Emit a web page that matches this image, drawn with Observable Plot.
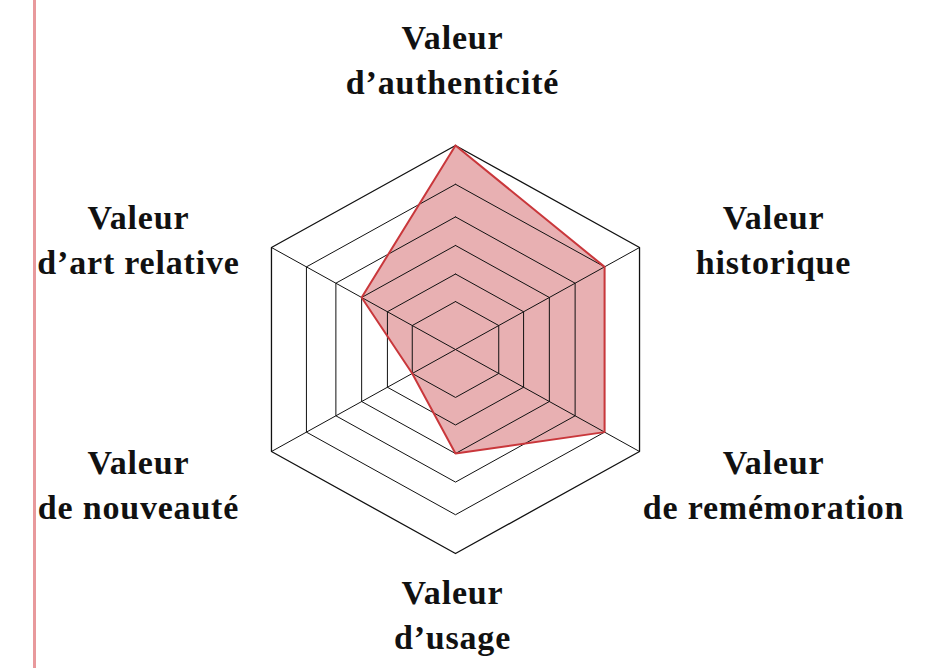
<!DOCTYPE html>
<html>
<head>
<meta charset="utf-8">
<script src="https://cdn.jsdelivr.net/npm/d3@7"></script>
<script src="https://cdn.jsdelivr.net/npm/@observablehq/plot@0.6"></script>
<style>
  html, body { margin: 0; padding: 0; background: #fff; }
  #wrap { position: relative; width: 944px; height: 668px; overflow: hidden; }
  #bar { position: absolute; left: 33px; top: 0; width: 3px; height: 668px; background: #e8999c; }
  #chart svg { display: block; }
  #chart svg text { letter-spacing: 0.8px; }
</style>
</head>
<body>
<div id="wrap"><div id="chart"></div><div id="bar"></div></div>
<script>
// Axes, clockwise from the top
const axes = [
  "Valeur\nd’authenticité",
  "Valeur\nhistorique",
  "Valeur\nde remémoration",
  "Valeur\nd’usage",
  "Valeur\nde nouveauté",
  "Valeur\nd’art relative"
];
// Score of each axis, as a grid ring level (1 = innermost ring, 6 = outer ring)
const scores = [6, 5, 5, 3, 1, 3];
// Grid ring levels
const levels = [1, 2, 3, 4, 5, 6];

// radial scale: level -> fraction of outer radius (rings are unevenly spaced)
const radius = d3.scaleLinear()
  .domain([0, 1, 2, 3, 4, 5, 6])
  .range([0, 0.235, 0.37, 0.51, 0.65, 0.81, 1]);

const n = axes.length;
const angle = i => (i * 2 * Math.PI) / n;
const px = (i, v) => radius(v) * Math.sin(angle(i));
const py = (i, v) => radius(v) * Math.cos(angle(i));

// grid rings
const ringPts = [];
for (const L of levels) {
  for (let k = 0; k <= n; k++) {
    const i = k % n;
    ringPts.push({level: L, x: px(i, L), y: py(i, L)});
  }
}
// spokes (only the oblique ones are drawn)
const maxLevel = d3.max(levels);
const spokes = d3.range(n)
  .filter(i => Math.abs(Math.sin(angle(i))) > 0.1)
  .map(i => ({x1: 0, y1: 0, x2: px(i, maxLevel), y2: py(i, maxLevel)}));

// data polygon
const poly = [];
for (let k = 0; k <= n; k++) {
  const i = k % n;
  poly.push({x: px(i, scores[i]), y: py(i, scores[i])});
}

// label placement: offset from the outer vertex, in pixels
function labelOffset(i) {
  const s = Math.sin(angle(i)), c = Math.cos(angle(i));
  if (Math.abs(s) < 0.1) return c > 0 ? [-3, -88] : [-3, 59];
  return [s > 0 ? 134 : -133, c > 0 ? -10 : 31];
}

const W = 944, H = 668;
const cx = 455, cy = 349, ux = 212.5, uy = 204;

const labelMarks = d3.range(n).map(i => {
  const [dx, dy] = labelOffset(i);
  return Plot.text([axes[i]], {
    x: px(i, maxLevel), y: py(i, maxLevel), text: d => d,
    dx, dy,
    textAnchor: "middle", lineAnchor: "middle", lineHeight: 1.32,
    fontSize: 34, fontWeight: "bold",
    fontFamily: "Liberation Serif",
    fill: "#111"
  });
});

const chart = Plot.plot({
  width: W, height: H,
  margin: 0,
  style: {fontFamily: "Liberation Serif", background: "transparent"},
  x: {domain: [-cx / ux, (W - cx) / ux], axis: null},
  y: {domain: [-(H - cy) / uy, cy / uy], axis: null},
  marks: [
    Plot.line(poly, {x: "x", y: "y", fill: "#e8b0b2", stroke: "none", curve: "linear-closed"}),
    Plot.line(ringPts, {x: "x", y: "y", z: "level", stroke: "#111", strokeWidth: d => d.level === maxLevel ? 1.3 : 1}),
    Plot.link(spokes, {x1: "x1", y1: "y1", x2: "x2", y2: "y2", stroke: "#111", strokeWidth: 1}),
    Plot.line(poly, {x: "x", y: "y", stroke: "#c9373b", strokeWidth: 2, strokeLinejoin: "miter"}),
    ...labelMarks
  ]
});
document.getElementById("chart").appendChild(chart);
</script>
</body>
</html>
